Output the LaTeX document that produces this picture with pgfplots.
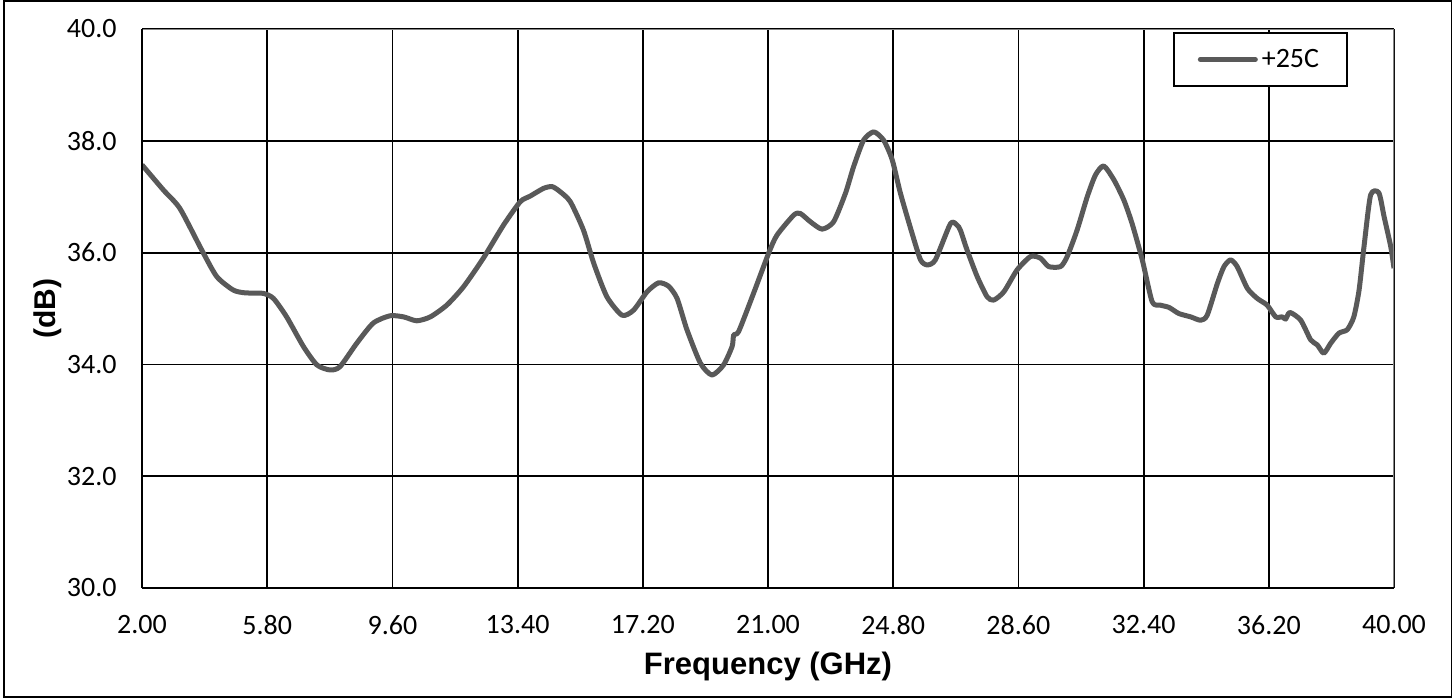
\documentclass[border=0pt]{standalone}
\usepackage{fontspec}
\setmainfont{Liberation Sans}
\newfontfamily\carlito{Carlito}
\usepackage{pgfplots}
\pgfplotsset{compat=1.18}
\definecolor{curve}{HTML}{595959}
\definecolor{topgray}{HTML}{868686}

\begin{document}
\begin{tikzpicture}
  % whole picture: 1455 x 698 px at 0.5pt per px
  \useasboundingbox (0,0) rectangle (727.5pt,349pt);
  \draw[line width=0.7pt] (2pt,0.6pt) rectangle (725.6pt,348.4pt);

  \begin{axis}[
    at={(71pt,55pt)}, anchor=south west,
    scale only axis,
    width=626pt, height=279.5pt,
    xmin=2, xmax=40, ymin=30, ymax=40,
    xtick={2,5.8,9.6,13.4,17.2,21,24.8,28.6,32.4,36.2,40},
    xticklabels={2.00,5.80,9.60,13.40,17.20,21.00,24.80,28.60,32.40,36.20,40.00},
    ytick={30,32,34,36,38,40},
    yticklabels={30.0,32.0,34.0,36.0,38.0,40.0},
    major tick length=0pt,
    grid=major,
    major grid style={black, line width=0.9pt},
    axis line style={draw=none},
    xticklabel style={font=\carlito\fontsize{14}{16}\selectfont, anchor=north, inner sep=0pt, yshift=-13.5pt},
    yticklabel style={font=\carlito\fontsize{14}{16}\selectfont, anchor=east, inner sep=0pt, xshift=-12.5pt},
    xlabel={Frequency (GHz)},
    ylabel={(dB)},
    every axis x label/.style={at={(axis description cs:0.5,0)}, anchor=north, inner sep=0pt, yshift=-32pt,
      font=\bfseries\fontsize{15.5}{18}\selectfont},
    every axis y label/.style={at={(axis description cs:-0.0751,0.5)}, rotate=90, anchor=center, inner sep=0pt,
      font=\bfseries\fontsize{15}{18}\selectfont},
    legend style={at={(axis description cs:1,1)}, anchor=north east, xshift=-23pt, yshift=-1.5pt,
      draw=black, line width=0.9pt, fill=white,
      inner xsep=12pt, inner ysep=6pt,
      font=\carlito\fontsize{14}{16}\selectfont},
    legend image code/.code={\draw[curve, line width=2.5pt, line cap=round] (0pt,0pt) -- (27.5pt,0pt);},
  ]
    \addplot[curve, line width=2.5pt, line join=round, smooth, tension=0.4] coordinates {
      (2.00,37.57) (2.65,37.12) (3.15,36.79) (3.81,36.05) (4.27,35.57) (4.77,35.33)
      (5.13,35.28) (5.68,35.27) (5.99,35.18) (6.39,34.85) (6.90,34.32) (7.31,33.99)
      (7.71,33.90) (8.01,33.96) (8.52,34.38) (9.02,34.74) (9.53,34.87) (9.94,34.85)
      (10.34,34.78) (10.75,34.85) (11.25,35.06) (11.76,35.39) (12.36,35.90) (12.97,36.49)
      (13.48,36.91) (13.78,37.01) (14.19,37.15) (14.45,37.18) (14.69,37.09) (15.00,36.91)
      (15.40,36.40) (15.71,35.81) (16.11,35.21) (16.57,34.88) (16.92,34.97) (17.33,35.30)
      (17.68,35.46) (17.98,35.40) (18.24,35.18) (18.54,34.62) (18.95,34.02) (19.30,33.81)
      (19.65,33.99) (19.91,34.32) (19.96,34.53) (20.11,34.59) (20.56,35.27) (21.02,35.99)
      (21.27,36.31) (21.78,36.67) (21.98,36.70) (22.29,36.55) (22.64,36.42) (22.99,36.55)
      (23.35,37.06) (23.60,37.54) (23.90,38.01) (24.21,38.16) (24.51,38.01) (24.77,37.66)
      (25.02,37.06) (25.37,36.35) (25.63,35.87) (25.83,35.78) (26.08,35.87) (26.54,36.52)
      (26.74,36.49) (26.84,36.40) (27.04,36.05) (27.35,35.57) (27.65,35.21) (27.85,35.15)
      (28.16,35.30) (28.56,35.69) (28.97,35.93) (29.27,35.90) (29.52,35.75) (29.88,35.75)
      (30.08,35.93) (30.38,36.40) (30.69,37.00) (30.94,37.39) (31.19,37.55) (31.50,37.30)
      (31.80,36.94) (32.05,36.52) (32.36,35.87) (32.66,35.12) (32.91,35.06) (33.17,35.02)
      (33.47,34.91) (33.83,34.85) (34.13,34.79) (34.33,34.88) (34.64,35.45) (34.84,35.75)
      (35.04,35.87) (35.24,35.75) (35.55,35.36) (35.85,35.18) (36.15,35.06) (36.41,34.85)
      (36.61,34.85) (36.71,34.81) (36.84,34.93) (37.17,34.79) (37.47,34.44) (37.67,34.35)
      (37.87,34.20) (38.08,34.38) (38.33,34.56) (38.58,34.62) (38.78,34.85) (38.94,35.33)
      (39.09,36.11) (39.29,37.03) (39.54,37.07) (39.70,36.64) (39.90,36.11) (40.00,35.72)
    };
    \addlegendentry{+25C}

    % plot area border: black on the left and bottom, grey on top and right
    \draw[topgray, line width=1pt] (rel axis cs:0,1) -- (rel axis cs:1,1) -- (rel axis cs:1,0);
    \draw[black, line width=1.3pt] (rel axis cs:0,1) -- (rel axis cs:0,0) -- (rel axis cs:1,0);
  \end{axis}
\end{tikzpicture}
\end{document}
